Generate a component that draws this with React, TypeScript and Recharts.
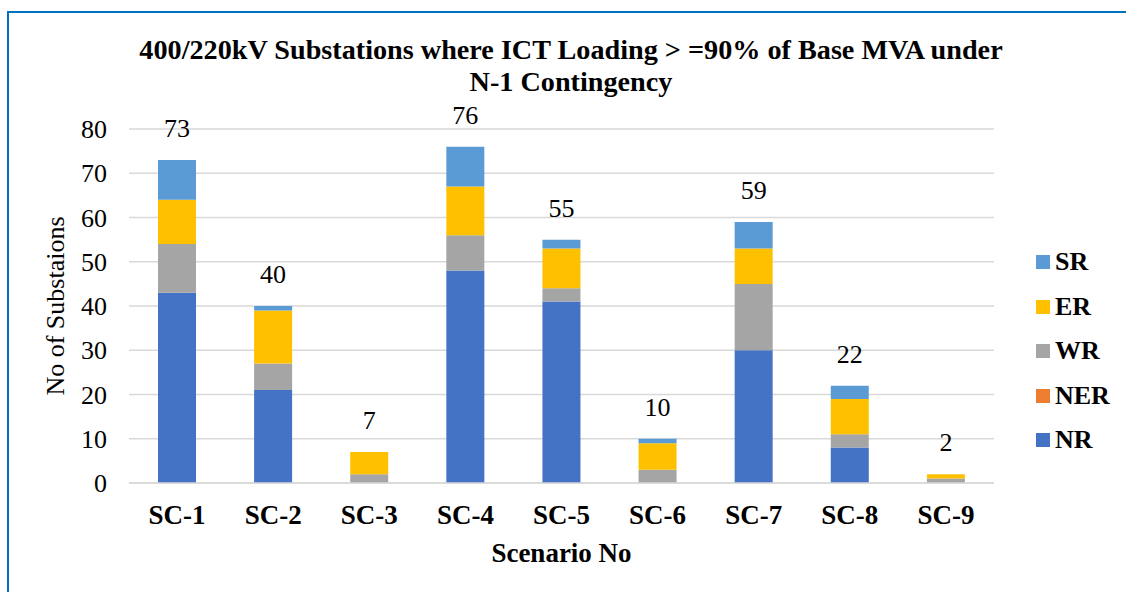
import React from 'react';
import { BarChart, Bar, XAxis, YAxis, CartesianGrid, LabelList } from 'recharts';

const scenarios = ['SC-1', 'SC-2', 'SC-3', 'SC-4', 'SC-5', 'SC-6', 'SC-7', 'SC-8', 'SC-9'];
const nr = [43, 21, 0, 48, 41, 0, 30, 8, 0];
const ner = [0, 0, 0, 0, 0, 0, 0, 0, 0];
const wr = [11, 6, 2, 8, 3, 3, 15, 3, 1];
const er = [10, 12, 5, 11, 9, 6, 8, 8, 1];
const sr = [9, 1, 0, 9, 2, 1, 6, 3, 0];
const totals = [73, 40, 7, 76, 55, 10, 59, 22, 2];
const yTicks = [0, 10, 20, 30, 40, 50, 60, 70, 80];

const series = [
  { key: 'NR', values: nr, color: '#4472C4' },
  { key: 'NER', values: ner, color: '#ED7D31' },
  { key: 'WR', values: wr, color: '#A5A5A5' },
  { key: 'ER', values: er, color: '#FFC000' },
  { key: 'SR', values: sr, color: '#5B9BD5' },
];

// total label goes on the topmost segment that actually has height
const data = scenarios.map((name, i) => {
  const row: Record<string, string | number | null> = {
    name,
    totalSR: sr[i] > 0 ? totals[i] : null,
    totalER: sr[i] > 0 ? null : totals[i],
  };
  series.forEach((s) => {
    row[s.key] = s.values[i];
  });
  return row;
});

const FONT = '"Liberation Serif", "Times New Roman", serif';
const labelStyle = { fontFamily: FONT, fontSize: 26, fill: '#000' };

const App: React.FC = () => {
  return (
    <div style={{ position: 'absolute', left: 0, top: 0, width: 1126, height: 592, overflow: 'hidden', background: '#fff', fontFamily: FONT }}>
      <div
        style={{
          position: 'absolute',
          left: 7,
          top: 11,
          width: 1130,
          height: 600,
          border: '2px solid #0070C0',
          boxSizing: 'border-box',
        }}
      />
      <div
        style={{
          position: 'absolute',
          left: 0,
          top: 34,
          width: 1142,
          textAlign: 'center',
          fontSize: 28.2,
          fontWeight: 'bold',
          lineHeight: '32px',
          color: '#000',
        }}
      >
        400/220kV Substations where ICT Loading &gt; =90% of Base MVA under
        <br />
        N-1 Contingency
      </div>
      <div style={{ position: 'absolute', left: 0, top: 0 }}>
        <BarChart
          width={1126}
          height={592}
          data={data}
          margin={{ top: 129, right: 132, left: 69, bottom: 69 }}
          barSize={38}
        >
          <CartesianGrid vertical={false} stroke="#D9D9D9" strokeWidth={1.5} />
          <XAxis
            dataKey="name"
            height={40}
            tickLine={false}
            axisLine={{ stroke: '#D9D9D9', strokeWidth: 1.5 }}
            tickMargin={16}
            tick={{ fontFamily: FONT, fontSize: 27, fontWeight: 'bold', fill: '#000' }}
            label={{
              value: 'Scenario No',
              position: 'insideBottom',
              offset: -39,
              style: { fontFamily: FONT, fontSize: 27, fontWeight: 'bold', fill: '#000' },
            }}
          />
          <YAxis
            width={60}
            domain={[0, 80]}
            ticks={yTicks}
            interval={0}
            tickLine={false}
            axisLine={false}
            tickMargin={16}
            tick={{ fontFamily: FONT, fontSize: 26, fill: '#000' }}
            label={{
              value: 'No of Substaions',
              angle: -90,
              position: 'center',
              dx: -44,
              style: { fontFamily: FONT, fontSize: 26, fill: '#000', textAnchor: 'middle' },
            }}
          />
          {series.map((s) => (
            <Bar key={s.key} dataKey={s.key} stackId="a" fill={s.color} isAnimationActive={false}>
              {s.key === 'ER' && <LabelList dataKey="totalER" position="top" offset={23} style={labelStyle} />}
              {s.key === 'SR' && <LabelList dataKey="totalSR" position="top" offset={23} style={labelStyle} />}
            </Bar>
          ))}
        </BarChart>
      </div>
      <div style={{ position: 'absolute', left: 1036, top: 240 }}>
        {[...series].reverse().map((s) => (
          <div key={s.key} style={{ display: 'flex', alignItems: 'center', height: 44.5 }}>
            <div style={{ width: 14, height: 14, background: s.color, marginRight: 5 }} />
            <span style={{ fontSize: 26, fontWeight: 'bold', color: '#000' }}>{s.key}</span>
          </div>
        ))}
      </div>
    </div>
  );
};

export default App;
